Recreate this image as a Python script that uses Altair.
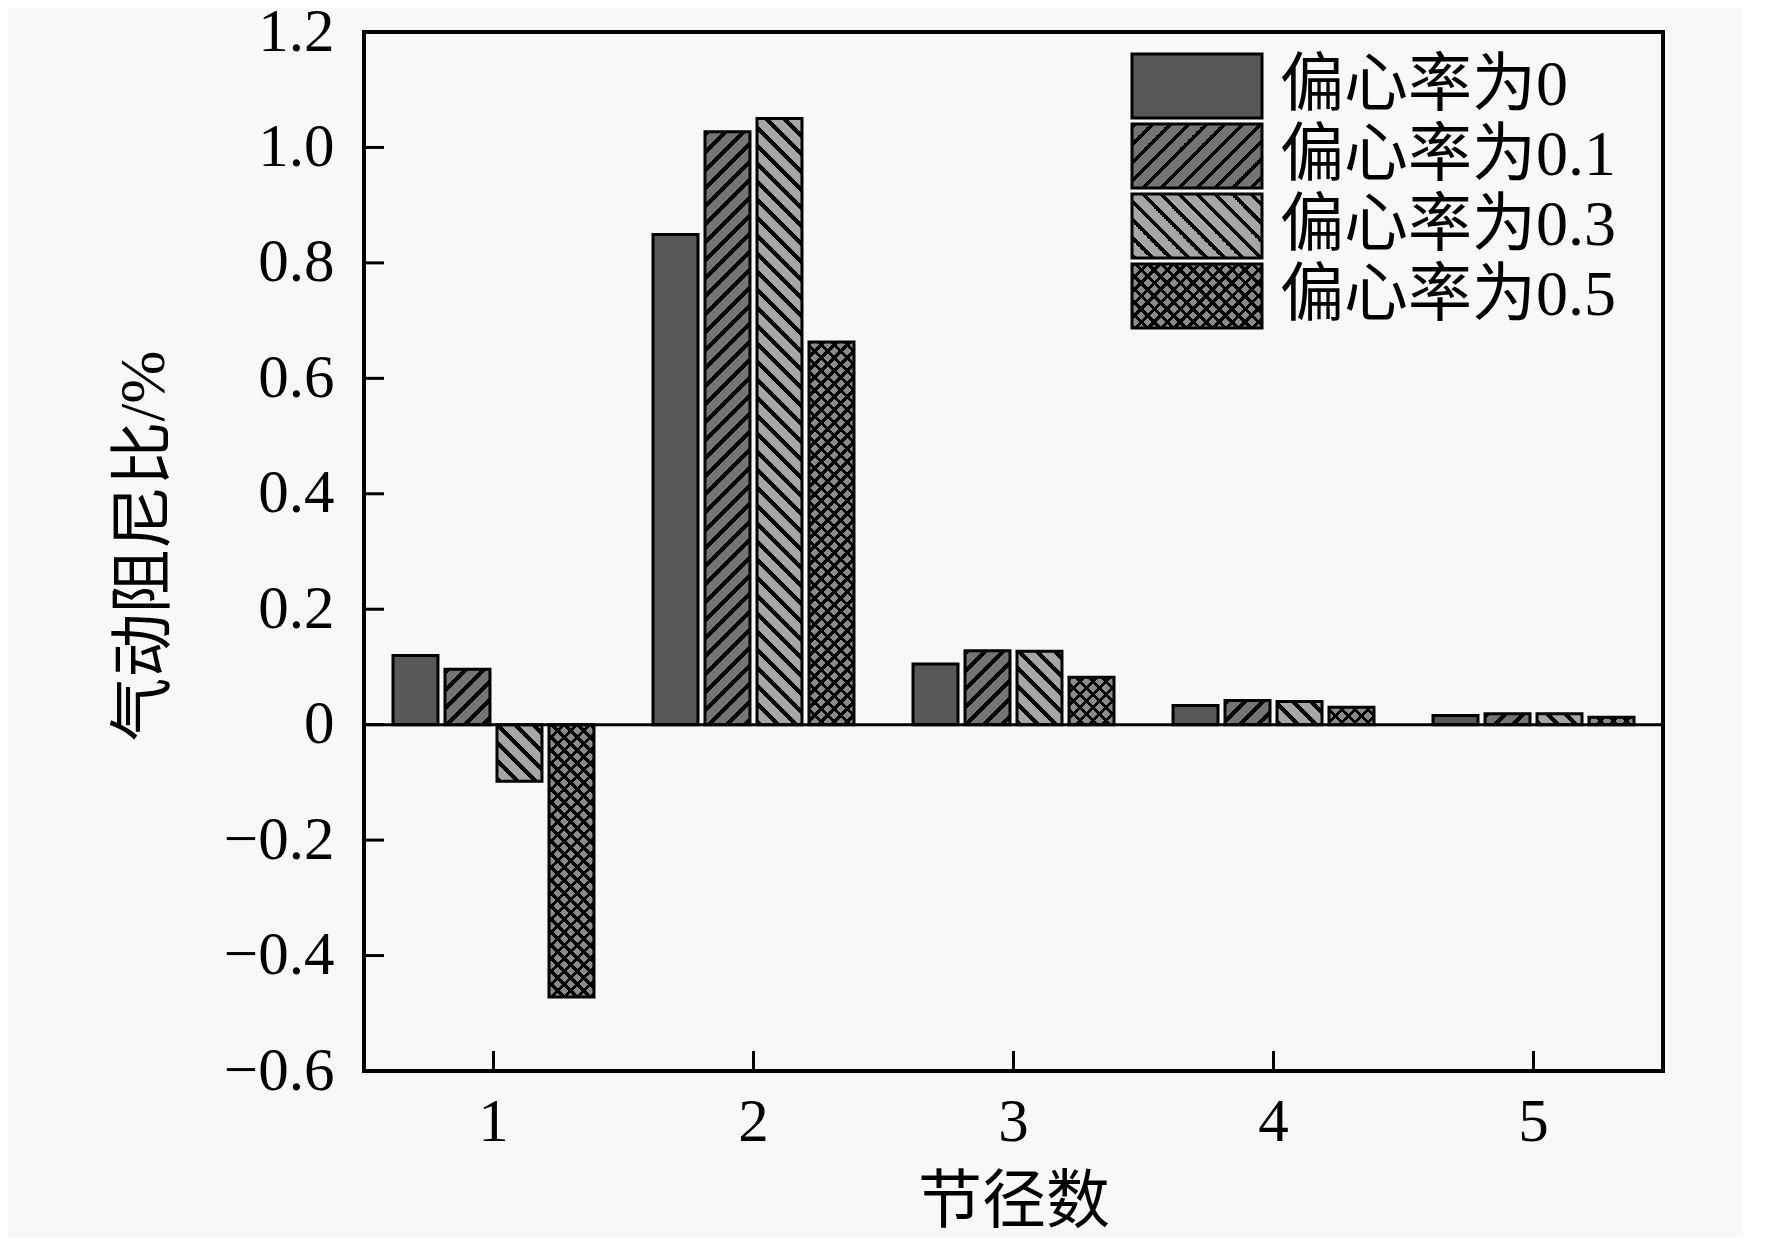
import altair as alt
import pandas as pd

# 节径数 and the four eccentricity series (气动阻尼比, %)
nodal = [1, 2, 3, 4, 5]
labels = ["偏心率为0", "偏心率为0.1", "偏心率为0.3", "偏心率为0.5"]
ecc_0 = [0.120, 0.849, 0.105, 0.033, 0.016]
ecc_01 = [0.096, 1.027, 0.128, 0.042, 0.019]
ecc_03 = [-0.098, 1.050, 0.127, 0.040, 0.019]
ecc_05 = [-0.472, 0.663, 0.082, 0.030, 0.013]
y_ticks = [-0.6, -0.4, -0.2, 0.0, 0.2, 0.4, 0.6, 0.8, 1.0, 1.2]

PW, PH = 1299, 1039
SPAN = 720  # length (in x+y pixels) covered by one stripe gradient
SERIF = "Liberation Serif"
MIXED = "Liberation Serif, Noto Sans CJK SC"

rows = []
for k, vals in enumerate([ecc_0, ecc_01, ecc_03, ecc_05]):
    for n, v in zip(nodal, vals):
        rows.append({"nd": n, "k": k, "v": v})
df = pd.DataFrame(rows)
legend_df = pd.DataFrame({"label": labels, "k": list(range(len(labels)))})


def stripes(period, frac, line, base):
    """hard-edged stops: dark line then base colour, repeated over SPAN"""
    out = []
    pos = 0.0
    while pos < SPAN:
        a = pos / SPAN
        b = min(pos + period * frac, SPAN) / SPAN
        c = min(pos + period, SPAN) / SPAN
        out += [{"offset": round(a, 5), "color": line},
                {"offset": round(b, 5), "color": line},
                {"offset": round(b, 5), "color": base},
                {"offset": round(c, 5), "color": base}]
        pos += period
    return out


p_fwd = alt.param(name="st_fwd", value=stripes(18, 0.32, "#000000", "#747474"))
p_back = alt.param(name="st_back", value=stripes(18, 0.32, "#000000", "#a6a6a6"))
p_x1 = alt.param(name="st_x1", value=stripes(13, 0.33, "#000000", "#8a8a8a"))
p_x2 = alt.param(name="st_x2", value=stripes(13, 0.33, "#000000", "rgba(0,0,0,0)"))


def grad(kind, w, h, stops):
    den = f"(({w})*({w})+({h})*({h}))"
    dx = f"{SPAN}*({w})/{den}"
    dy = f"{SPAN}*({h})/{den}"
    if kind == "/":
        s = f"{{gradient:'linear',x1:0,y1:0,x2:{dx},y2:{dy},stops:{stops}}}"
    else:
        s = f"{{gradient:'linear',x1:0,y1:1,x2:{dx},y2:1-({dy}),stops:{stops}}}"
    return {"expr": s}


BAR_W = "bandwidth('xOffset')"
BAR_H = "abs(scale('y', datum.v) - scale('y', 0))"
LEG_W, LEG_H = "130", "64"


def fills(w, h):
    return [
        ["#585858"],
        [grad("/", w, h, "st_fwd")],
        [grad("\\", w, h, "st_back")],
        [grad("/", w, h, "st_x1"), grad("\\", w, h, "st_x2")],
    ]


x_axis = alt.Axis(title="节径数", labelAngle=0, domain=False, ticks=False,
                  labelPadding=21, labelFont=SERIF, labelFontSize=61,
                  labelColor="black", titleFont=MIXED, titleFontSize=64,
                  titleFontWeight="normal", titleColor="black",
                  titleX=PW / 2, titleY=131, titleBaseline="middle")
y_axis = alt.Axis(title="气动阻尼比/%", values=y_ticks, domain=False, ticks=False,
                  labelPadding=30, labelFont=SERIF, labelFontSize=61,
                  labelColor="black",
                  labelExpr="datum.value == 0 ? '0' : format(datum.value, '.1f')",
                  titleFont=MIXED, titleFontSize=64, titleFontWeight="normal",
                  titleColor="black", titleAngle=270, titleX=-220, titleY=PH / 2 - 6,
                  titleAlign="center", titleBaseline="middle")
x_scale = alt.Scale(paddingInner=0.227, paddingOuter=0.1115)
y_scale = alt.Scale(domain=[-0.6, 1.2], nice=False)

layers = []
for k, fl in enumerate(fills(BAR_W, BAR_H)):
    for j, f in enumerate(fl):
        mk = {"fill": f}
        if j == len(fl) - 1:
            mk.update(stroke="black", strokeWidth=3)
        layers.append(
            alt.Chart(df).transform_filter(f"datum.k == {k}").mark_bar(**mk).encode(
                x=alt.X("nd:N", scale=x_scale, axis=x_axis),
                xOffset=alt.XOffset("k:N", scale=alt.Scale(domain=[0, 1, 2, 3],
                                                           paddingInner=0.135)),
                y=alt.Y("v:Q", scale=y_scale, axis=y_axis),
            )
        )

zero_line = alt.Chart(pd.DataFrame({"v": [0.0]})).mark_rule(
    color="black", strokeWidth=3).encode(
    y=alt.Y("v:Q", scale=y_scale, axis=y_axis), x=alt.value(0), x2=alt.value(PW))

y_tick_marks = alt.Chart(pd.DataFrame({"v": y_ticks})).mark_rule(
    color="black", strokeWidth=3).encode(
    y=alt.Y("v:Q", scale=y_scale, axis=y_axis), x=alt.value(0), x2=alt.value(20))

x_tick_marks = alt.Chart(pd.DataFrame({"nd": nodal})).mark_rule(
    color="black", strokeWidth=3).encode(
    x=alt.X("nd:N", scale=x_scale, axis=x_axis),
    y=alt.value(PH - 20), y2=alt.value(PH))

# legend inside the top right corner
legend_layers = []
for k, fl in enumerate(fills(LEG_W, LEG_H)):
    for j, f in enumerate(fl):
        mk = {"fill": f}
        if j == len(fl) - 1:
            mk.update(stroke="black", strokeWidth=3)
        legend_layers.append(
            alt.Chart(legend_df)
            .transform_filter(f"datum.k == {k}")
            .transform_calculate(ly="22 + 70 * datum.k", ly2="86 + 70 * datum.k")
            .mark_rect(**mk)
            .encode(x=alt.value(768), x2=alt.value(898),
                    y=alt.Y("ly:Q", scale=None, axis=None), y2="ly2:Q")
        )

legend_text = alt.Chart(legend_df).transform_calculate(
    ty="54 + 70 * datum.k").mark_text(
    align="left", baseline="middle", font=MIXED, fontSize=64, color="black").encode(
    x=alt.value(916), y=alt.Y("ty:Q", scale=None, axis=None), text="label:N")

chart = alt.layer(
    *layers, zero_line, y_tick_marks, x_tick_marks, *legend_layers, legend_text
).add_params(p_fwd, p_back, p_x1, p_x2).properties(
    width=PW, height=PH, autosize="none", background="#f8f8f8",
    padding={"left": 356, "top": 24, "right": 80, "bottom": 166},
).configure_view(stroke="black", strokeWidth=4).configure_axis(grid=False)

chart.save("out.html", embed_options={"renderer": "svg", "actions": False})
